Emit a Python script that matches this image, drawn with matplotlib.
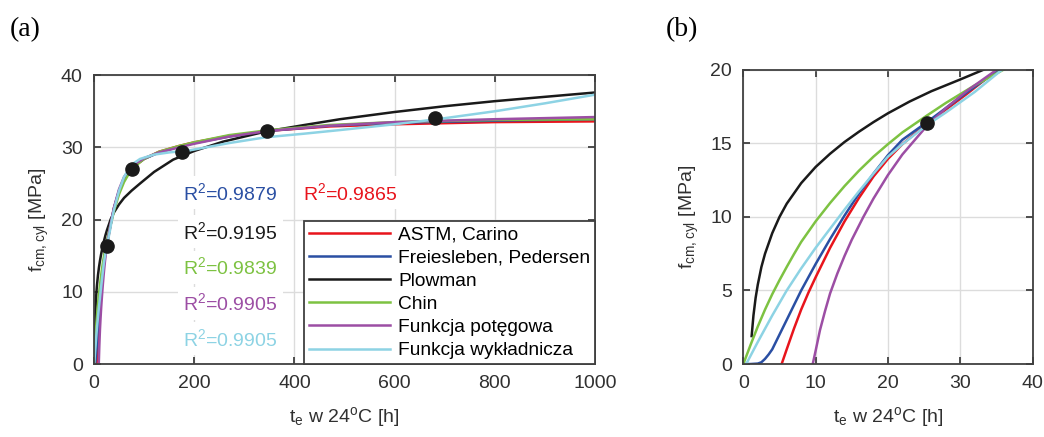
import matplotlib
matplotlib.use('Agg')
import matplotlib.pyplot as plt

plt.rcParams['font.family'] = ['Liberation Sans', 'DejaVu Sans']
plt.rcParams['mathtext.default'] = 'regular'

# measured points
t_pts = [25.4, 75, 175, 345, 680]
f_pts = [16.4, 27.0, 29.3, 32.2, 34.0]

# fitted curves, values
t_red = [5.3, 6, 7, 8, 9, 10, 12, 14, 16, 18, 20, 22, 25.4, 28, 31, 35, 40, 50, 60, 75,
         100, 130, 170, 200, 270, 350, 470, 600, 800, 1000]
f_red = [0, 1.0, 2.4, 3.7, 4.85, 5.9, 7.9, 9.7, 11.3, 12.75, 13.95, 14.95, 16.35, 17.3, 18.4, 19.95, 21.6, 23.9, 25.5, 27.1,
         28.4, 29.4, 30.2, 30.7, 31.6, 32.3, 32.9, 33.2, 33.5, 33.6]

t_blue = [0, 1, 2, 2.5, 3, 3.5, 4, 5, 6, 7, 8, 10, 12, 14, 16, 18, 20, 22, 25.4, 28, 31, 35.3, 40, 50, 60, 75,
          100, 130, 170, 200, 270, 350, 470, 600, 800, 1000]
f_blue = [0, 0, 0.03, 0.12, 0.35, 0.65, 1.0, 2.0, 3.0, 4.0, 5.0, 6.8, 8.5, 10.1, 11.6, 12.95, 14.2, 15.25, 16.45, 17.4, 18.5, 20.0, 21.6, 24.0, 25.6, 27.2,
          28.4, 29.3, 30.1, 30.6, 31.5, 32.3, 33.0, 33.4, 33.7, 33.9]

t_black = [1.15, 1.4, 1.7, 2.0, 2.5, 3, 3.5, 4, 5, 6, 7, 8, 10, 12, 14, 16, 18, 20, 23, 26, 30, 33.4, 40, 50, 60, 75,
           92, 120, 158, 200, 258, 343, 420, 491, 600, 700, 800, 900, 1000]
f_black = [1.9, 3.3, 4.5, 5.4, 6.6, 7.5, 8.2, 8.9, 10.0, 10.9, 11.6, 12.3, 13.4, 14.3, 15.1, 15.8, 16.45, 17.05, 17.85, 18.55, 19.35, 20.05, 21.0, 22.1, 23.0, 24.0,
           25.0, 26.6, 28.3, 29.5, 30.8, 32.2, 33.1, 33.9, 34.9, 35.7, 36.4, 37.0, 37.6]

t_green = [0, 1, 2, 3, 4, 5, 6, 7, 8, 10, 12, 14, 16, 18, 20, 22, 25.4, 28, 32, 36.3, 40, 50, 60, 75,
           100, 130, 170, 200, 270, 350, 470, 600, 800, 1000]
f_green = [0, 1.3, 2.55, 3.7, 4.75, 5.7, 6.6, 7.47, 8.3, 9.7, 10.95, 12.1, 13.15, 14.1, 14.95, 15.75, 16.9, 17.75, 18.95, 20.1, 21.2, 23.5, 25.2, 27.0,
           28.4, 29.4, 30.2, 30.7, 31.7, 32.4, 33.1, 33.5, 33.8, 33.9]

t_purple = [9.6, 10, 10.6, 11.3, 12, 13, 14, 15, 16.6, 18, 20, 22, 25.4, 28, 31, 35, 40, 50, 60, 75,
            100, 130, 170, 200, 270, 350, 470, 600, 800, 1000]
f_purple = [0, 0.9, 2.3, 3.6, 4.8, 6.15, 7.35, 8.45, 10.0, 11.25, 12.85, 14.25, 16.2, 17.4, 18.6, 20.0, 21.7, 24.2, 25.9, 27.4,
            28.5, 29.3, 30.0, 30.5, 31.5, 32.3, 33.0, 33.5, 33.9, 34.2]

t_cyan = [0.4, 2, 4, 6, 8, 10, 12, 14, 16, 18, 20, 22, 25.4, 28, 32, 35.5, 40, 50, 60, 75,
          92, 120, 150, 192, 270, 343, 420, 491, 600, 685, 800, 900, 1000]
f_cyan = [0, 1.5, 3.3, 5.0, 6.5, 7.9, 9.2, 10.5, 11.75, 12.95, 14.1, 14.95, 16.25, 17.1, 18.5, 19.9, 21.4, 24.0, 25.9, 27.6,
          28.4, 29.0, 29.3, 29.6, 30.6, 31.4, 31.9, 32.4, 33.2, 33.9, 35.0, 36.1, 37.3]

labels = ['ASTM, Carino', 'Freiesleben, Pedersen', 'Plowman', 'Chin',
          'Funkcja potęgowa', 'Funkcja wykładnicza']
r2 = ['0.9865', '0.9879', '0.9195', '0.9839', '0.9905', '0.9905']
colors = ['#e8141c', '#2a4fa3', '#1a1a1a', '#7dc242', '#9c4ea4', '#8dd3e4']
curves = [(t_red, f_red), (t_blue, f_blue), (t_black, f_black),
          (t_green, f_green), (t_purple, f_purple), (t_cyan, f_cyan)]

gray = '#404040'
txt = '#303030'

fig = plt.figure(figsize=(10.44, 4.37), dpi=100)
ax1 = fig.add_axes([0.090, 0.167, 0.480, 0.661])
ax2 = fig.add_axes([0.712, 0.167, 0.277, 0.673])


def style(ax):
    ax.grid(True, color='#dcdcdc', linewidth=1.0)
    ax.set_axisbelow(True)
    for s in ax.spines.values():
        s.set_color(gray)
        s.set_linewidth(1.3)
    ax.tick_params(direction='in', top=True, right=True, length=5, width=1.3,
                   color=gray, labelcolor=txt, labelsize=14, pad=8)
    ax.set_xlabel('t$_e$ w 24$^o$C [h]', fontsize=14, color=txt, labelpad=9)
    ax.set_ylabel('f$_{cm,cyl}$ [MPa]', fontsize=14, color=txt, labelpad=7)


for ax in (ax1, ax2):
    for (t, f), c, lab in zip(curves, colors, labels):
        ax.plot(t, f, color=c, linewidth=1.8, label=lab)
    ax.plot(t_pts, f_pts, 'o', color='#1a1a1a', markersize=9.5, zorder=5)
    style(ax)

ax1.set_xlim(0, 1000)
ax1.set_ylim(0, 40)
ax1.set_xticks(range(0, 1001, 200))
ax1.set_yticks(range(0, 41, 10))

ax2.set_xlim(0, 40)
ax2.set_ylim(0, 20)
ax2.set_xticks(range(0, 41, 10))
ax2.set_yticks(range(0, 21, 5))

leg = ax1.legend(loc='lower right', borderaxespad=0, fontsize=13.8,
                 handlelength=4.2, handletextpad=0.45, labelspacing=0.3,
                 borderpad=0.25, fancybox=False, framealpha=1, edgecolor=gray)
leg.get_frame().set_linewidth(1.3)

# R^2 annotations (data coordinates of panel a)
r2_x = [418, 178, 178, 178, 178, 178]
r2_y = [23.7, 23.7, 18.3, 13.4, 8.4, 3.5]
for x, y, val, c in zip(r2_x, r2_y, r2, colors):
    ax1.text(x, y, 'R$^2$=' + val, color=c, fontsize=14, va='center', ha='left',
             bbox=dict(facecolor='white', edgecolor='none', pad=4), zorder=4)

serif = ['Liberation Serif', 'DejaVu Serif']
fig.text(0.009, 0.918, '(a)', fontsize=20, family=serif)
fig.text(0.638, 0.918, '(b)', fontsize=20, family=serif)

fig.savefig('out.png', dpi=100)
